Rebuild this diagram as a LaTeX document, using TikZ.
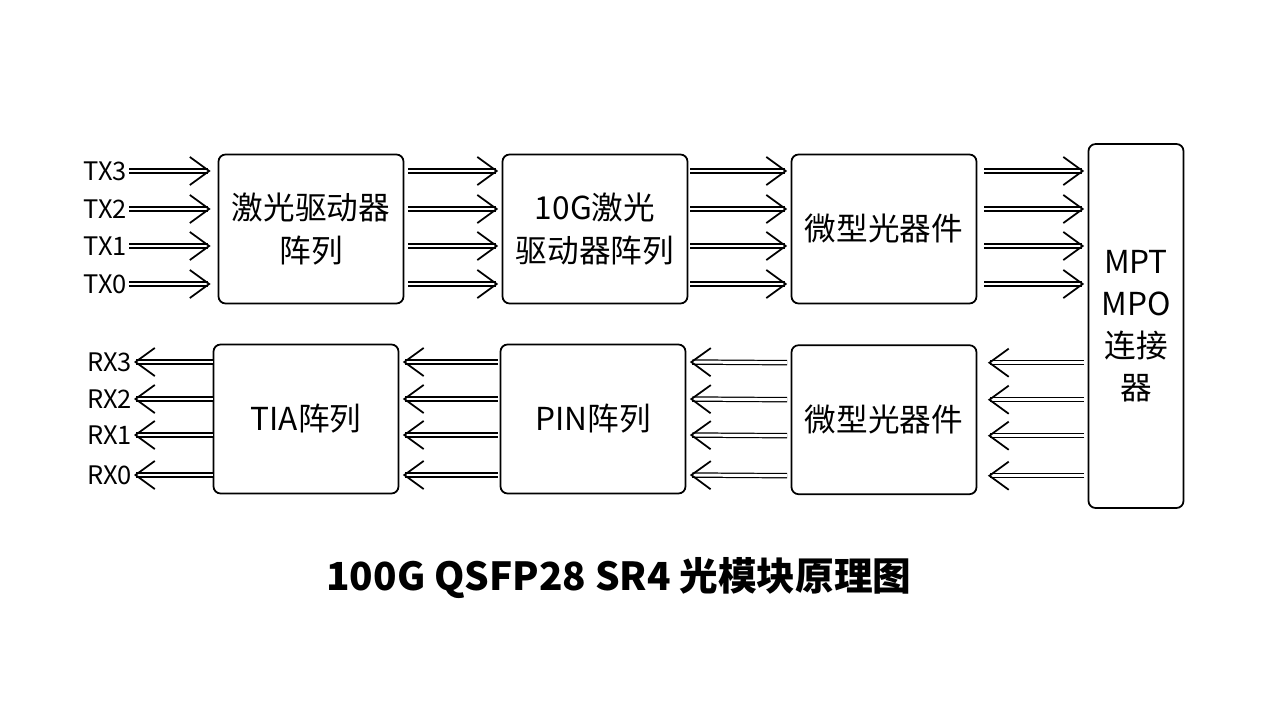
\documentclass[tikz,border=0pt]{standalone}
\usepackage{fontspec}
\setmainfont{Noto Sans CJK SC}
\usepackage{tikz}
\tikzstyle{block} = [rectangle, draw, line width=1pt, rounded corners=4pt,
    align=center, minimum width=3.7cm, minimum height=2.98cm,
    font=\fontsize{18}{24}\selectfont]
\tikzstyle{sig} = [font=\fontsize{14.5}{16}\selectfont, inner sep=1pt]
\tikzstyle{link} = [double, line width=0.7pt, double distance=1.7pt,
    -{Straight Barb[length=11pt,width=16pt,line width=1pt]}]
\usetikzlibrary{calc}
\usetikzlibrary{arrows.meta}
\usetikzlibrary{positioning}

\begin{document}
\begin{tikzpicture}[x=0.02cm,y=-0.02cm]
    \useasboundingbox (0,0) rectangle (1267,713);

    % transmit path
    \node[block] (laser) at (311,229) {激光驱动器\\阵列};
    \node[block] (drv) at (595,229) {10G激光\\驱动器阵列};
    \node[block] (optA) at (884,229) {微型光器件};
    \node[block, minimum width=1.9cm, minimum height=7.28cm] (mpo) at (1136,326) {MPT\\MPO\\连接\\器};

    % receive path
    \node[block] (tia) at (306,419) {TIA阵列};
    \node[block] (pin) at (593,419) {PIN阵列};
    \node[block, below=0.8cm of optA] (optB) {微型光器件};

    \foreach \o/\n in {-58/3,-20/2,17/1,55/0} {
        \node[sig, anchor=east] (tx\n) at (129,229+\o) {TX\n};
        \draw[link, shorten >=4pt] (tx\n.east) -- (laser.west |- tx\n.east);
        \draw[link, shorten <=2pt, shorten >=2pt] ($(laser.east)+(0,\o)$) -- ($(drv.west)+(0,\o)$);
        \draw[link, shorten <=1pt, shorten >=2pt] ($(drv.east)+(0,\o)$) -- ($(optA.west)+(0,\o)$);
        \draw[link, shorten <=4pt, shorten >=2pt] ($(optA.east)+(0,\o)$) -- (mpo.west |- {$(optA.east)+(0,\o)$});
    }

    \foreach \o/\n in {-57/3,-20/2,16/1,56/0} {
        \node[sig, anchor=east] (rx\n) at (134,419+\o) {RX\n};
        \draw[link] (tia.west |- rx\n.east) -- (rx\n.east);
        \draw[link, shorten <=1pt, shorten >=2pt] ($(pin.west)+(0,\o)$) -- ($(tia.east)+(0,\o)$);
        \draw[link, shorten <=2pt, shorten >=2pt] ($(optB.west)+(0,\o)$) -- ($(pin.east)+(0,\o)$);
        \draw[link, shorten <=2pt, shorten >=6pt] (mpo.west |- {$(optB.east)+(0,\o)$}) -- ($(optB.east)+(0,\o)$);
    }

    \node[font=\bfseries\fontsize{22}{26}\selectfont] (title) at (619,578) {100G QSFP28 SR4 光模块原理图};
\end{tikzpicture}
\end{document}
